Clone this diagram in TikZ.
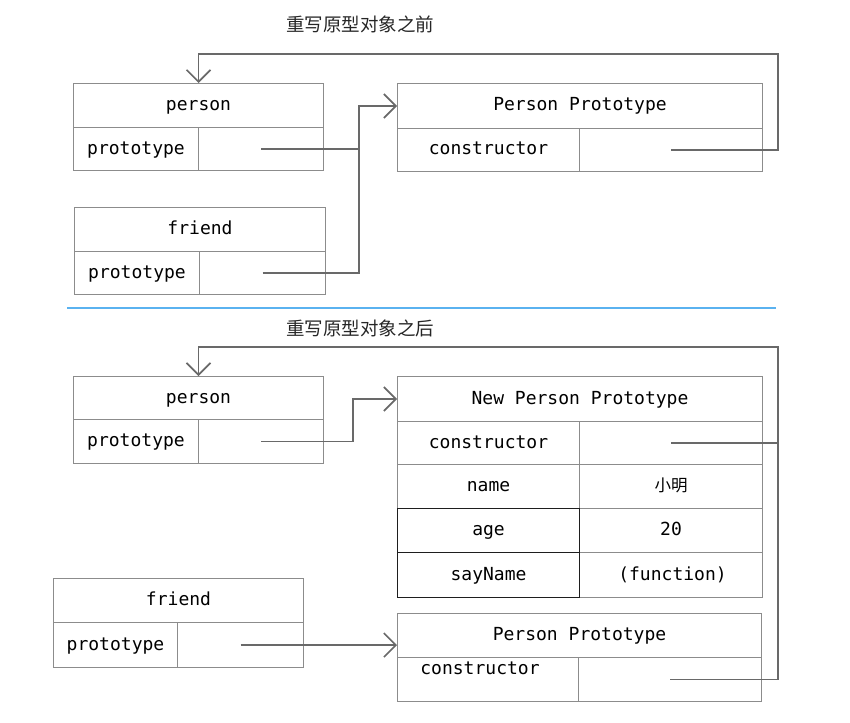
\documentclass[tikz,border=0pt]{standalone}
\usepackage{fontspec}
\setmonofont{DejaVu Sans Mono}
\newfontfamily\cjk{Noto Sans CJK SC}
\usepackage{xcolor}
\definecolor{boxgray}{RGB}{140,140,140}
\definecolor{linkgray}{RGB}{105,105,105}
\definecolor{sepblue}{RGB}{90,178,240}
\definecolor{celldark}{RGB}{30,30,30}
\usetikzlibrary{arrows.meta,positioning,calc}
\tikzset{
  cell/.style 2 args={draw=boxgray, line width=1pt, anchor=north west, inner sep=0pt,
                      font=\fontsize{18}{20}\ttfamily, text height=14pt, text depth=4pt,
                      minimum width=#1, minimum height=#2},
  txt/.style={font=\fontsize{18}{20}\ttfamily},
  title/.style={font=\fontsize{18.5}{20}\cjk, text=black!85},
  link/.style={draw=linkgray, line width=1.6pt, -{Straight Barb[length=12pt,width=24pt]}},
  plain/.style={draw=linkgray, line width=1.6pt},
  sep/.style={draw=sepblue, line width=2pt},
}

\begin{document}
\begin{tikzpicture}[x=1pt, y=-1pt]
\useasboundingbox (0,0) rectangle (850,722);

% Top: before the prototype is rewritten
\node[title] (tbefore) at (360,24) {重写原型对象之前};

\node[cell={250pt}{44pt}] (ph1) at (73,83) {person};
\node[cell={125pt}{43pt}] (pk1) at (73,127) {prototype};
\node[cell={125pt}{43pt}] (pv1) at (198,127) {};

\node[cell={365pt}{45pt}] (pph1) at (397,83) {Person Prototype};
\node[cell={182pt}{43pt}] (pck1) at (397,128) {constructor};
\node[cell={183pt}{43pt}] (pcv1) at (579,128) {};

\node[cell={251pt}{44pt}] (fh1) at (74,207) {friend};
\node[cell={125pt}{43pt}] (fk1) at (74,251) {prototype};
\node[cell={126pt}{43pt}] (fv1) at (199,251) {};

\coordinate (top1) at (778,54);
\draw[link] (pv1.center) -| ([xshift=-38pt]pph1.west) -- (pph1.west);
\draw[plain] (fv1.center) -| ([xshift=-38pt]pph1.west);
\draw[link] (pcv1.center) -| (top1) -| (ph1.north);

% Separator
\draw[sep] (67,308) -- (776,308);

% Bottom: after the prototype is rewritten
\node[title] (tafter) at (360,328) {重写原型对象之后};

\node[cell={250pt}{43pt}] (ph2) at (73,376) {person};
\node[cell={125pt}{44pt}] (pk2) at (73,419) {prototype};
\node[cell={125pt}{44pt}] (pv2) at (198,419) {};

\node[cell={365pt}{45pt}] (nph) at (397,376) {New Person Prototype};
\node[cell={182pt}{43pt}] (nck) at (397,421) {constructor};
\node[cell={183pt}{43pt}] (ncv) at (579,421) {};
\node[cell={182pt}{44pt}] (nnk) at (397,464) {name};
\node[cell={183pt}{44pt}] (nnv) at (579,464) {\cjk\fontsize{16.5}{18}\selectfont 小明};
\node[cell={183pt}{44pt}] (nav) at (579,508) {20};
\node[cell={183pt}{45pt}] (nsv) at (579,552) {\,(function)};
\node[cell={182pt}{44pt}, draw=celldark] (nak) at (397,508) {age};
\node[cell={182pt}{45pt}, draw=celldark] (nsk) at (397,552) {sayName};

\node[cell={250pt}{44pt}] (fh2) at (53,578) {friend};
\node[cell={124pt}{45pt}] (fk2) at (53,622) {prototype};
\node[cell={126pt}{45pt}] (fv2) at (177,622) {};

\node[cell={364pt}{44pt}] (pph2) at (397,613) {Person Prototype};
\node[cell={181pt}{44pt}] (pck2) at (397,657) {};
\node[txt] (pct2) at ([xshift=-8pt,yshift=11pt]pck2.center) {constructor};
\node[cell={183pt}{44pt}] (pcv2) at (578,657) {};

\coordinate (top2) at (778,347);
\draw[link] (pv2.center) -| ([xshift=-44pt]nph.west) -- (nph.west);
\draw[link] (ncv.center) -| (top2) -| (ph2.north);
\draw[plain] (pcv2.center) -| (top2);
\draw[link] (fv2.center) -- (fv2.center -| pph2.west);
\end{tikzpicture}
\end{document}
